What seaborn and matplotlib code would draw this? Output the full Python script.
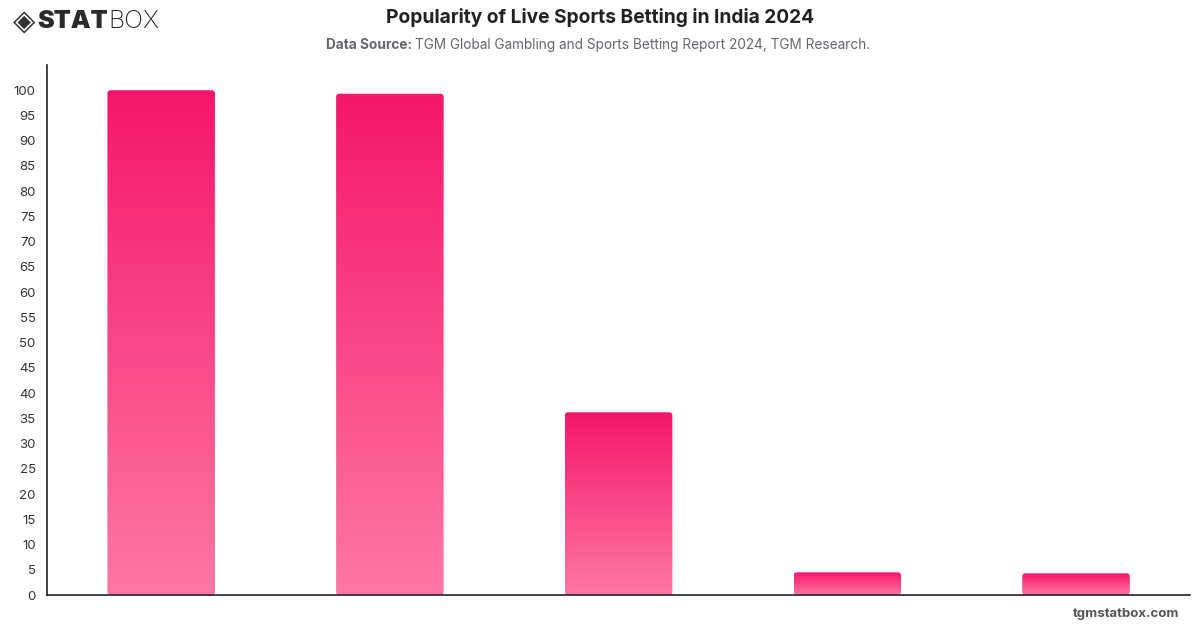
import numpy as np
import pandas as pd
import matplotlib
matplotlib.use("Agg")
import matplotlib.pyplot as plt
import seaborn as sns
from matplotlib.patches import FancyBboxPatch
from matplotlib.colors import LinearSegmentedColormap

# Data (no category labels are shown on the chart)
categories = ["Category 1", "Category 2", "Category 3", "Category 4", "Category 5"]
popularity = [100, 99.3, 36.2, 4.5, 4.3]
y_ticks = list(range(0, 101, 5))

df = pd.DataFrame({"category": categories, "value": popularity})

sns.set_style("white")
plt.rcParams["font.family"] = ["Inter", "DejaVu Sans"]

fig = plt.figure(figsize=(12, 6.28), dpi=100)
ax = fig.add_axes([0.039, 0.0525, 0.953, 0.844])

sns.barplot(data=df, x="category", y="value", ax=ax, width=0.47, color="#f5166b")

# swap the flat bars for vertical gradients with slightly rounded corners
grad = LinearSegmentedColormap.from_list("pinkgrad", ["#ff78a3", "#f5166b"])
img = np.linspace(0, 1, 256).reshape(-1, 1)
aspect = (105 / (0.844 * 628)) / (5 / (0.953 * 1200))
for bar in list(ax.patches):
    x0, w, h = bar.get_x(), bar.get_width(), bar.get_height()
    bar.set_visible(False)
    clip = FancyBboxPatch((x0, 0), w, h,
                          boxstyle="round,pad=0,rounding_size=0.013",
                          mutation_aspect=aspect,
                          transform=ax.transData, facecolor="none", edgecolor="none")
    ax.add_patch(clip)
    im = ax.imshow(img, cmap=grad, origin="lower", aspect="auto",
                   extent=(x0, x0 + w, 0, h), zorder=2, interpolation="bilinear")
    im.set_clip_path(clip)
ax.set_xlim(-0.5, 4.5)
ax.set_ylim(0, 105)

ax.set_yticks(y_ticks)
ax.tick_params(axis="y", length=0, labelsize=9.5, labelcolor="#333333", pad=8)
ax.set_xticks([])
ax.set_xlabel("")
ax.set_ylabel("")
for side in ["top", "right"]:
    ax.spines[side].set_visible(False)
for side in ["left", "bottom"]:
    ax.spines[side].set_color("#222222")
    ax.spines[side].set_linewidth(1.2)

renderer = fig.canvas.get_renderer()


def text_run(x, y, parts):
    # draw pieces of text one after another on a line (figure px coords)
    for s, kw in parts:
        t = fig.text(x / 1200, y, s, ha="left", va="center", **kw)
        x += t.get_window_extent(renderer).width


fig.text(0.5, 0.972, "Popularity of Live Sports Betting in India 2024",
         ha="center", va="center", fontsize=13.8, fontweight="bold", color="#222222")
text_run(326, 0.929, [
    ("Data Source: ", dict(fontsize=9.8, fontweight="bold", color="#666670")),
    ("TGM Global Gambling and Sports Betting Report 2024, TGM Research.",
     dict(fontsize=9.8, color="#666670")),
])

# logo
text_run(13, 0.965, [
    ("◈", dict(fontsize=21, color="#333333", family=["DejaVu Sans"])),
    (" ", dict(fontsize=6)),
    ("STAT", dict(fontsize=18, fontweight="black", color="#2a2a2a")),
    ("BOX", dict(fontsize=18, fontweight="light", color="#2a2a2a")),
])

fig.text(0.983, 0.022, "tgmstatbox.com", ha="right", va="center",
         fontsize=9.5, fontweight="bold", color="#555555")

fig.savefig("out.png", dpi=100)
